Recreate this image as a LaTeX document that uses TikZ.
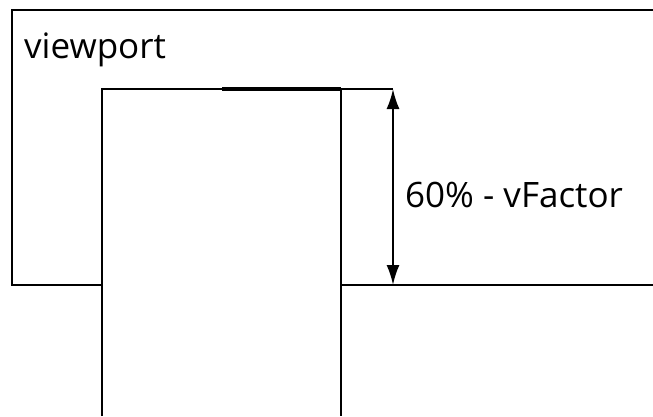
\documentclass[tikz,border=0pt]{standalone}
\usepackage{fontspec}
\setmainfont{Open Sans}
\usetikzlibrary{arrows.meta}
\begin{document}
\begin{tikzpicture}[x=1pt,y=-1pt,
  edge/.style={line width=2pt},
  txt/.style={font=\fontsize{35}{40}\selectfont, inner sep=0pt, anchor=base west},
  dimarrow/.style={line width=2pt, {Latex[length=20pt,width=13pt]}-{Latex[length=20pt,width=13pt]}}]
\useasboundingbox (0,0) rectangle (653,416);
% viewport frame (runs off the right edge)
\coordinate (vpTR) at (653,10);
\coordinate (vpTL) at (12,10);
\coordinate (vpBL) at (12,285);
\coordinate (vpBR) at (653,285);
\draw[edge] (vpTR) -- (vpTL) -- (vpBL) -- (102,285);
\draw[edge] (341,285) -- (vpBR);
% element box (runs off the bottom edge)
\coordinate (elTL) at (102,89);
\coordinate (elTR) at (341,89);
\draw[edge] (102,416) -- (elTL) -- (393,89);
\draw[edge] (elTR) -- (341,416);
\draw[line width=3.2pt] (222,89) -- (elTR);
% dimension arrow
\coordinate (top) at (393,89);
\coordinate (bot) at (393,285);
\draw[dimarrow] (top) -- (bot);
\node[txt] (vp) at (24,58) {viewport};
\node[txt] (vf) at (405,207) {60\% - vFactor};
\end{tikzpicture}
\end{document}
